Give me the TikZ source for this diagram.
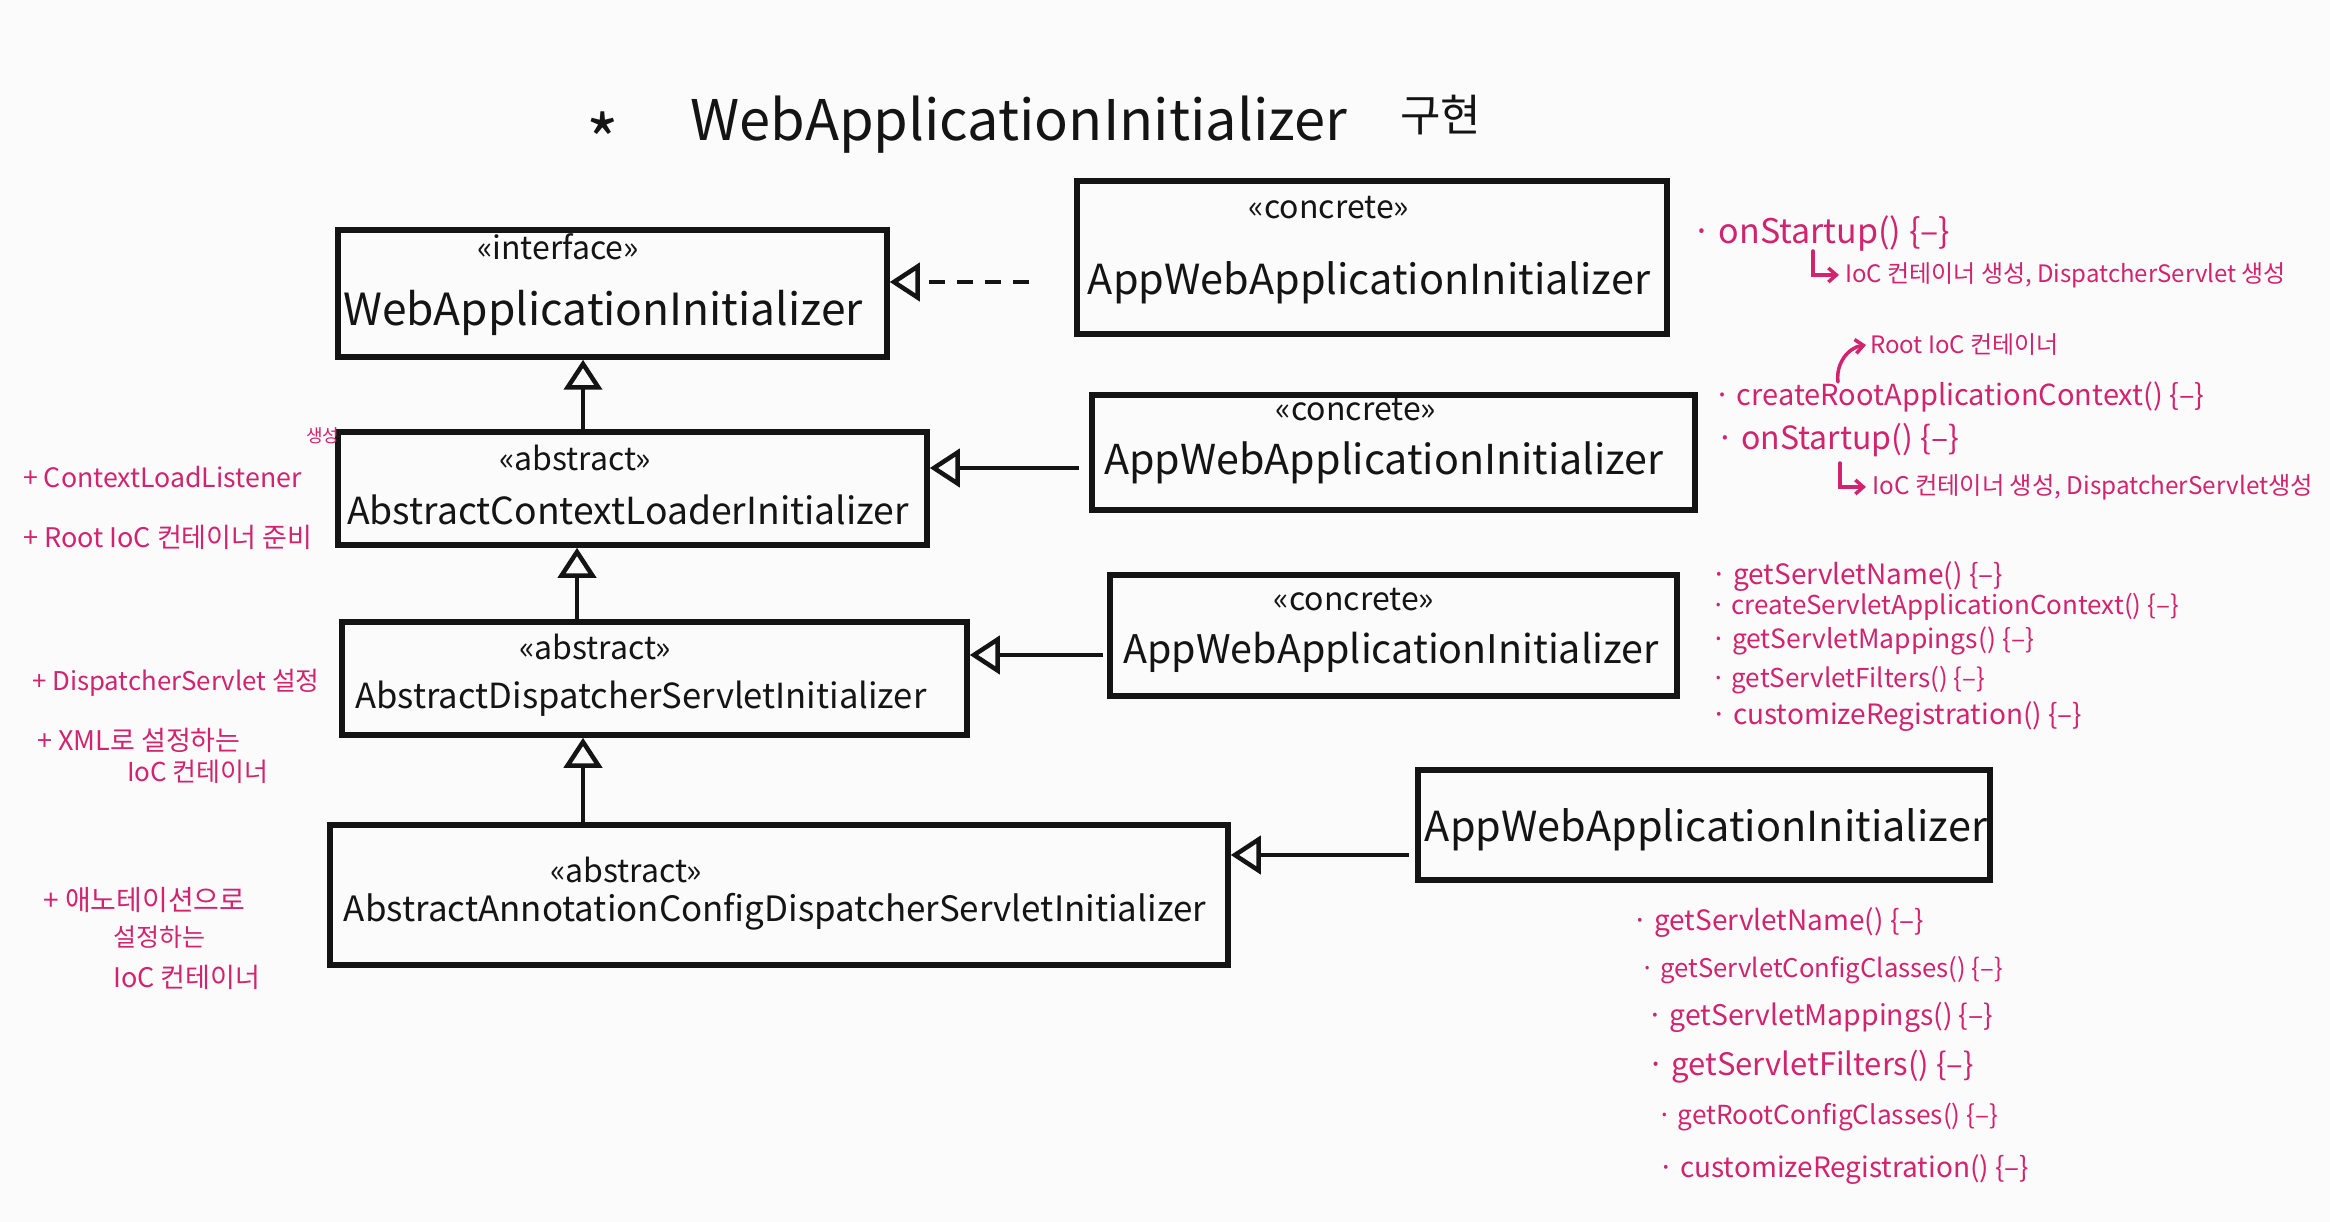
\documentclass[tikz,border=0pt]{standalone}
\usepackage{fontspec}
\setmainfont{Noto Sans CJK KR}
\usetikzlibrary{arrows.meta,calc}
\definecolor{ink}{HTML}{141414}
\definecolor{pinkink}{HTML}{D2246E}
\definecolor{paper}{HTML}{FBFBFB}
\newcommand{\fs}[1]{\fontsize{#1}{#1}\selectfont}
\begin{document}
\begin{tikzpicture}[x=1pt,y=-1pt,
  box/.style={draw=ink, line width=5.5pt, inner sep=0pt, rectangle},
  cname/.style={text=ink, inner sep=0pt, anchor=center},
  stereo/.style={text=ink, inner sep=0pt, anchor=center, font=\fs{32}},
  gen/.style={draw=ink, line width=4.5pt, -{Triangle[open, length=30pt, width=38pt, line width=4.5pt]}},
  real/.style={gen, dash pattern=on 16pt off 12pt},
  note/.style={text=pinkink, inner sep=0pt, anchor=west},
  pinkline/.style={draw=pinkink, line width=3.5pt, line cap=round, -{Straight Barb[length=8pt, width=14pt, line width=3.5pt]}}
]
\useasboundingbox (0,0) rectangle (2330,1222);
\fill[paper] (0,0) rectangle (2330,1222);

% ---------- title ----------
\node[text=ink, inner sep=0pt, font=\fs{70}] (star) at (603,140) {*};
\node[text=ink, inner sep=0pt, anchor=west, font=\fs{56}] (title) at (690,125) {WebApplicationInitializer};
\node[text=ink, inner sep=0pt, anchor=west, font=\fs{44}] (gu) at (1400,115) {구현};

% ---------- left column (abstract hierarchy) ----------
\node[box, minimum width=549pt, minimum height=127pt] (b1) at (612.5,293.5) {};
\node[stereo] (b1s) at (558,247) {«interface»};
\node[cname, font=\fs{44.3}] (b1n) at (603,313) {WebApplicationInitializer};

\node[box, minimum width=589pt, minimum height=113pt] (b2) at (632.5,488.5) {};
\node[stereo] (b2s) at (575,458) {«abstract»};
\node[cname, font=\fs{37.3}] (b2n) at (628,510) {AbstractContextLoaderInitializer};

\node[box, minimum width=625pt, minimum height=113pt] (b3) at (654.5,678.5) {};
\node[stereo] (b3s) at (595,647) {«abstract»};
\node[cname, font=\fs{34.6}] (b3n) at (641,699) {AbstractDispatcherServletInitializer};

\node[box, minimum width=898pt, minimum height=140pt] (b4) at (779,895) {};
\node[stereo] (b4s) at (626,870) {«abstract»};
\node[cname, font=\fs{34.9}] (b4n) at (775,912) {AbstractAnnotationConfigDispatcherServletInitializer};

% ---------- right column (concrete classes) ----------
\node[box, minimum width=590pt, minimum height=153pt] (c1) at (1372,257.5) {};
\node[stereo] (c1s) at (1329,208) {«concrete»};
\node[cname, font=\fs{41.4}] (c1n) at (1369,283) {AppWebApplicationInitializer};

\node[box, minimum width=603pt, minimum height=115pt] (c2) at (1393.5,452.5) {};
\node[stereo] (c2s) at (1356,410) {«concrete»};
\node[cname, font=\fs{41.2}] (c2n) at (1384,463) {AppWebApplicationInitializer};

\node[box, minimum width=567pt, minimum height=121pt] (c3) at (1393.5,635.5) {};
\node[stereo] (c3s) at (1354,600) {«concrete»};
\node[cname, font=\fs{39.4}] (c3n) at (1391,652) {AppWebApplicationInitializer};

\node[box, minimum width=572pt, minimum height=110pt] (c4) at (1704,825) {};
\node[cname, font=\fs{41.4}] (c4n) at (1706,830) {AppWebApplicationInitializer};

% ---------- connectors ----------
\coordinate (h1) at ([yshift=-24.5pt]c1.west);
\draw[real, shorten <=45pt] (h1) -- (h1 -| b1.east);
\coordinate (h2) at ([yshift=-15.5pt]c2.west);
\draw[gen, shorten <=10pt] (h2) -- (h2 -| b2.east);
\coordinate (h3) at ([yshift=-19.5pt]c3.west);
\draw[gen, shorten <=4pt] (h3) -- (h3 -| b3.east);
\coordinate (h4) at ([yshift=-30pt]c4.west);
\draw[gen, shorten <=6pt] (h4) -- (h4 -| b4.east);

\coordinate (v1) at ([xshift=-49.5pt]b2.north);
\draw[gen] (v1) -- (v1 |- b1.south);
\coordinate (v2) at ([xshift=-77.5pt]b3.north);
\draw[gen] (v2) -- (v2 |- b2.south);
\coordinate (v3) at ([xshift=-196pt]b4.north);
\draw[gen] (v3) -- (v3 |- b3.south);

% ---------- left notes ----------
\node[note, font=\fs{26.7}] (l1) at (23,477) {+ ContextLoadListener};
\node[note, font=\fs{18}] (l1s) at (306,436) {생성};
\node[note, font=\fs{27}] (l2) at (23,537) {+ Root IoC 컨테이너 준비};
\node[note, font=\fs{25.8}] (l3) at (32,683) {+ DispatcherServlet 설정};
\node[note, font=\fs{27}] (l4) at (37,740) {+ XML로 설정하는};
\node[note, font=\fs{26}] (l5) at (127,772) {IoC 컨테이너};
\node[note, font=\fs{28}] (l6) at (43,900) {+ 애노테이션으로};
\node[note, font=\fs{25}] (l7) at (113,937) {설정하는};
\node[note, font=\fs{27}] (l8) at (113,977) {IoC 컨테이너};

% ---------- right notes ----------
\node[note, font=\fs{34}] (r1) at (1692,233) {· onStartup() \{–\}};
\node[note, font=\fs{24}] (r2) at (1845,275) {IoC 컨테이너 생성, DispatcherServlet 생성};
\draw[pinkline] ([xshift=-32pt,yshift=24pt]r2.west) |- ([xshift=-6pt]r2.west);

\node[note, font=\fs{24}] (root) at (1870,345) {Root IoC 컨테이너};
\node[note, font=\fs{29}] (cr) at (1714,397) {· createRootApplicationContext() \{–\}};
\coordinate (rootfrom) at (1838,382);
\draw[pinkline] (rootfrom) to[bend left=45] ([xshift=-4pt]root.west);
\node[note, font=\fs{32}] (r3) at (1716,440) {· onStartup() \{–\}};
\node[note, font=\fs{24.3}] (r4) at (1872,487) {IoC 컨테이너 생성, DispatcherServlet생성};
\draw[pinkline] ([xshift=-32pt,yshift=24pt]r4.west) |- ([xshift=-6pt]r4.west);

\node[note, font=\fs{28}] (s1) at (1711,577) {· getServletName() \{–\}};
\node[note, font=\fs{26}] (s2) at (1711,607) {· createServletApplicationContext() \{–\}};
\node[note, font=\fs{26.5}] (s3) at (1711,641) {· getServletMappings() \{–\}};
\node[note, font=\fs{26}] (s4) at (1711,680) {· getServletFilters() \{–\}};
\node[note, font=\fs{28}] (s5) at (1711,717) {· customizeRegistration() \{–\}};

\node[note, font=\fs{28}] (t1) at (1632,923) {· getServletName() \{–\}};
\node[note, font=\fs{25.7}] (t2) at (1640,970) {· getServletConfigClasses() \{–\}};
\node[note, font=\fs{28.4}] (t3) at (1647,1017) {· getServletMappings() \{–\}};
\node[note, font=\fs{31}] (t4) at (1647,1067) {· getServletFilters() \{–\}};
\node[note, font=\fs{26.2}] (t5) at (1657,1117) {· getRootConfigClasses() \{–\}};
\node[note, font=\fs{28}] (t6) at (1658,1170) {· customizeRegistration() \{–\}};
\end{tikzpicture}
\end{document}
